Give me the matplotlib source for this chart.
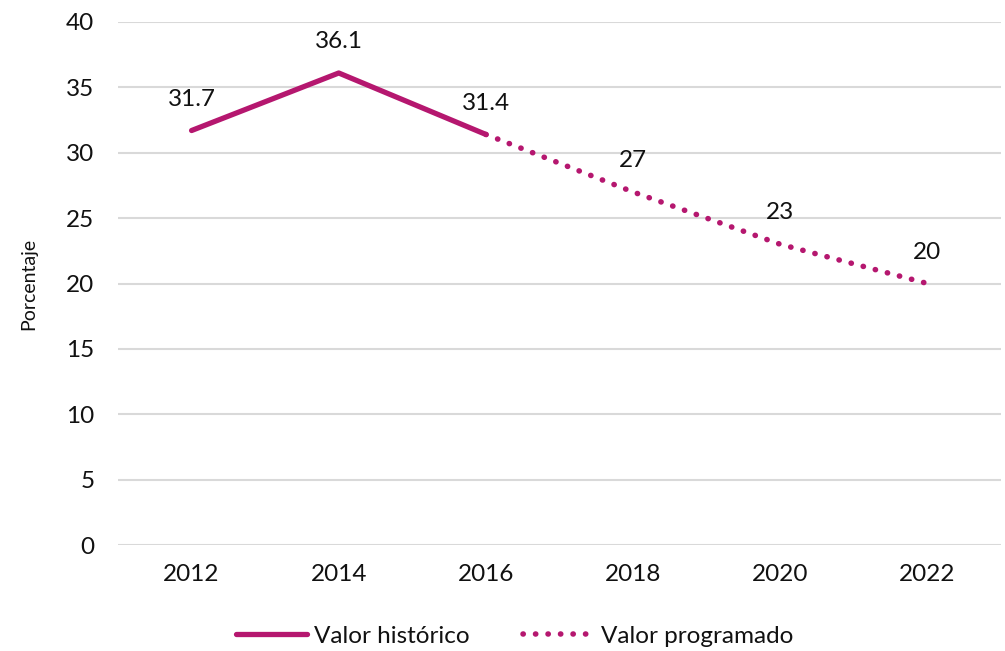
import matplotlib
matplotlib.use("Agg")
import matplotlib.pyplot as plt

# Data
years = ["2012", "2014", "2016", "2018", "2020", "2022"]
historico = [31.7, 36.1, 31.4]
programado = [31.4, 27, 23, 20]
etiquetas = ["31.7", "36.1", "31.4", "27", "23", "20"]
valores_etiqueta = [31.7, 36.1, 31.4, 27, 23, 20]

color = "#B5176F"
plt.rcParams["font.family"] = ["Lato", "DejaVu Sans"]

fig = plt.figure(figsize=(10.05, 6.51), dpi=100)
ax = fig.add_axes([118 / 1005, 106 / 651, 883 / 1005, 523 / 651])

x_hist = list(range(len(historico)))
x_prog = list(range(len(historico) - 1, len(years)))

ax.plot(x_hist, historico, color=color, lw=3.8, solid_capstyle="round",
        label="Valor histórico")
ax.plot(x_prog, programado, color=color, lw=4.0, linestyle=(0, (0.05, 2.2)),
        dash_capstyle="round", label="Valor programado")

for i, (txt, v) in enumerate(zip(etiquetas, valores_etiqueta)):
    ax.annotate(txt, (i, v), xytext=(0, 15), textcoords="offset points",
                ha="center", va="bottom", fontsize=17.5, color="#111111")

ax.set_xlim(-0.5, len(years) - 0.5)
ax.set_ylim(0, 40)
ax.set_yticks(range(0, 41, 5))
ax.set_xticks(range(len(years)))
ax.set_xticklabels(years)
ax.grid(axis="y", color="#D9D9D9", lw=1.5)
ax.set_axisbelow(True)
for s in ax.spines.values():
    s.set_visible(False)
ax.tick_params(axis="both", length=0, labelsize=17.5, colors="#111111")
ax.tick_params(axis="y", pad=17)
ax.tick_params(axis="x", pad=14)
ax.set_ylabel("Porcentaje", fontsize=14, color="#111111")
ax.yaxis.set_label_coords(-0.092, 0.5)

leg = fig.legend(loc="center", bbox_to_anchor=(515 / 1005, 1 - 636 / 651),
                 ncol=2, frameon=False, fontsize=17.5, handlelength=2.9,
                 handletextpad=0.3, columnspacing=2.2)
for t in leg.get_texts():
    t.set_color("#111111")

fig.savefig("out.png", dpi=100)
